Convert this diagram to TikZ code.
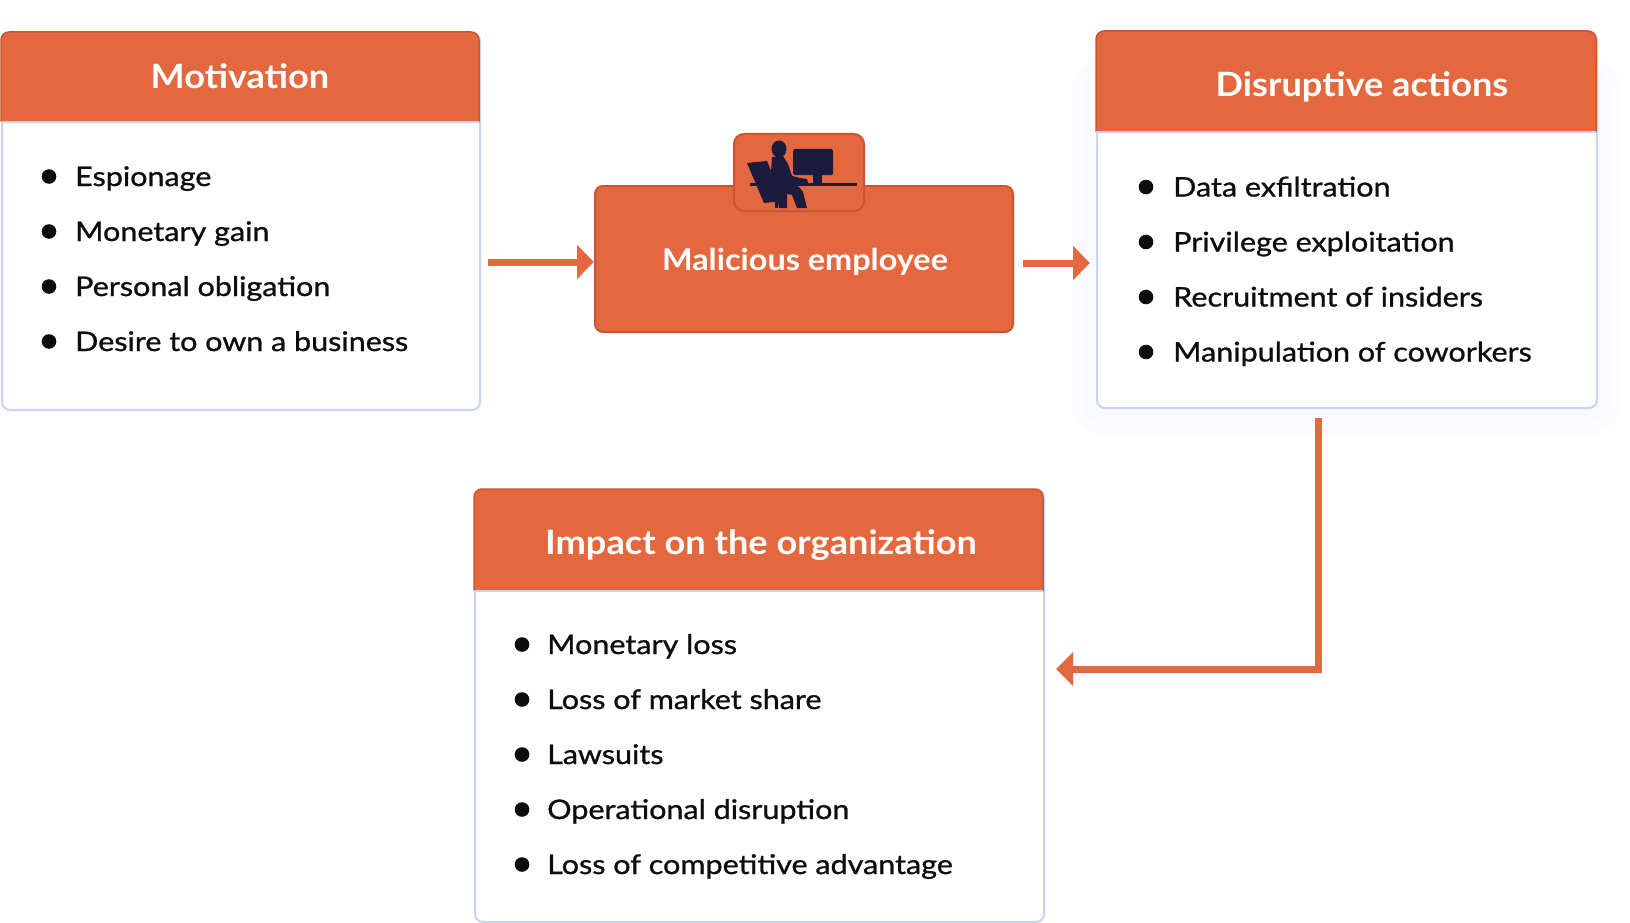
\documentclass[tikz,border=0pt]{standalone}
\usepackage{fontspec}
\setmainfont{Lato}
\newfontfamily\bodyfont[FakeStretch=1.13, RawFeature={embolden=0.9}]{Lato}
\newfontfamily\ttlfont[FakeStretch=1.08]{Lato}
\usetikzlibrary{arrows.meta}
\definecolor{org}{HTML}{E3683F}
\definecolor{orgdk}{HTML}{CA552F}
\definecolor{lav}{HTML}{C9D3F7}
\definecolor{navy}{HTML}{1C1A3D}
\definecolor{ink}{HTML}{0D0D0D}
\definecolor{shdA}{HTML}{FCFCFE}
\definecolor{shdB}{HTML}{F9FAFE}
\tikzset{
  bodybox/.style={draw=lav, line width=2pt, fill=white, rounded corners=8pt, inner sep=0pt, anchor=north west},
  ttl/.style={text=white, font=\fontsize{33.5}{40}\ttlfont\bfseries, anchor=base, inner sep=0pt},
  itm/.style={text=ink, font=\fontsize{27}{32}\bodyfont, anchor=base west, inner sep=0pt},
  arr/.style={draw=org, line width=7pt, -{Triangle[length=17pt,width=33pt]}},
  orgbox/.style={fill=org, draw=orgdk, line width=2pt, inner sep=0pt, anchor=north west},
}
% #1 name, #2 x1, #3 y1, #4 header bottom y, #5 x2, #6 y2
\newcommand{\ibox}[6]{%
  \node[bodybox, minimum width={#5-#2}, minimum height={#6-#3}] (#1) at (#2,#3) {};
  \fill[org, rounded corners=8pt] (#2,#3) rectangle (#5,#4);
  \fill[org] (#2,{#4-14}) rectangle (#5,#4);
  \draw[orgdk, line width=1.5pt, rounded corners=8pt] (#2,#4) -- (#2,#3) -- (#5,#3) -- (#5,#4);
  \draw[lav, line width=2pt] (#2,#4) -- (#5,#4);
}
% #1 name, #2 bullet x, #3 text x, #4 baseline, #5 text
\newcommand{\bitem}[5]{%
  \fill[ink] (#2,{#4-9.5}) circle (7.3);
  \node[itm] (#1) at (#3,#4) {#5};
}
\begin{document}
\begin{tikzpicture}[x=1pt,y=-1pt]
\useasboundingbox[fill=white] (0,0) rectangle (1630,923);

% shadow behind disruptive box
\fill[shdA, rounded corners=30pt] (1072,60) rectangle (1620,434);
\fill[shdB, rounded corners=20pt] (1082,70) rectangle (1610,422);

% Motivation
\ibox{mot}{1}{32}{122}{479}{409}
\node[ttl] (motT) at (240,89) {Motivation};
\bitem{m1}{49}{75}{186}{Espionage}
\bitem{m2}{49}{75}{241}{Monetary gain}
\bitem{m3}{49}{75}{296}{Personal obligation}
\bitem{m4}{49}{75}{351}{Desire to own a business}

% Disruptive actions
\ibox{dis}{1096}{31}{132}{1596}{407}
\node[ttl] (disT) at (1362,97) {Disruptive actions};
\bitem{d1}{1146}{1173}{196.5}{Data exfiltration}
\bitem{d2}{1146}{1173}{251.5}{Privilege exploitation}
\bitem{d3}{1146}{1173}{306.5}{Recruitment of insiders}
\bitem{d4}{1146}{1173}{361.5}{Manipulation of coworkers}

% Impact
\ibox{imp}{474}{489}{591}{1043}{921}
\node[ttl] (impT) at (761,554) {Impact on the organization};
\bitem{i1}{522}{547}{654}{Monetary loss}
\bitem{i2}{522}{547}{709}{Loss of market share}
\bitem{i3}{522}{547}{764}{Lawsuits}
\bitem{i4}{522}{547}{819}{Operational disruption}
\bitem{i5}{522}{547}{874}{Loss of competitive advantage}

% Malicious employee
\node[orgbox, rounded corners=8pt, minimum width=418, minimum height=146] (mal) at (594,185) {};
\node[ttl, font=\fontsize{30}{36}\ttlfont\bfseries] (malT) at (805,270) {Malicious employee};
\node[orgbox, rounded corners=10pt, minimum width=130, minimum height=77] (ico) at (733,133) {};

% icon: person at desk
\begin{scope}
\fill[navy] (779,149) ellipse (7.5 and 8.5);
\fill[navy] (747,163) -- (767,161) -- (783,201) -- (764,203) -- cycle;
\fill[navy] (772,157) -- (783,156) -- (788,164) -- (792,176) -- (800,178) -- (807,179) -- (808,183) -- (793,184) -- (799,187) -- (803,192) -- (807,208) -- (797,208) -- (792,195) -- (787,194) -- (787,208) -- (779,208) -- (777,196) -- (770,189) -- cycle;
\fill[navy] (775,201) rectangle (778,208);
\fill[navy] (750,183) rectangle (857,186);
\fill[navy, rounded corners=1.5pt] (793,149) rectangle (833,175);
\fill[navy] (813,174) rectangle (822,183);
\end{scope}

% connectors
\coordinate (a1) at (488,262);
\draw[arr] (a1) -- (mal.west |- a1);
\coordinate (a2) at (1023,263);
\draw[arr] (a2) -- ([xshift=-6pt]dis.west |- a2);
\coordinate (c3) at (1318,669);
\draw[arr] ([yshift=-9pt]dis.south -| c3) -- (c3) -- ([xshift=11pt]imp.east |- c3);
\end{tikzpicture}
\end{document}
